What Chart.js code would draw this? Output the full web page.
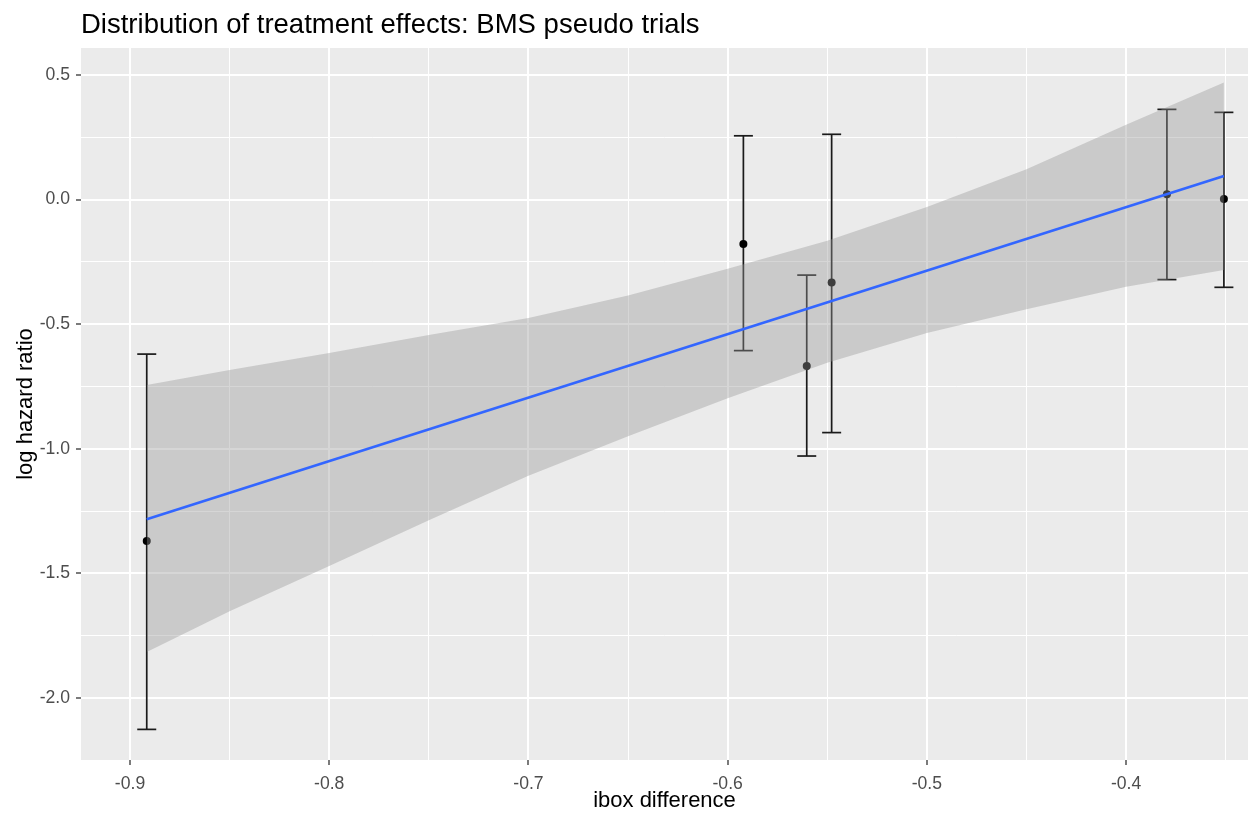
<!DOCTYPE html>
<html>
<head>
<meta charset="utf-8">
<title>Distribution of treatment effects: BMS pseudo trials</title>
<script src="https://cdn.jsdelivr.net/npm/chart.js@4.4.1/dist/chart.umd.min.js"></script>
<style>
	html, body { margin: 0; padding: 0; background: #ffffff; }
	#wrap { width: 1250px; height: 819px; }
</style>
</head>
<body>
<div id="wrap"><canvas id="myChart" width="1250" height="819"></canvas></div>
<script>

const title_text = 'Distribution of treatment effects: BMS pseudo trials';
const x_title = 'ibox difference';
const y_title = 'log hazard ratio';

// one entry per pseudo trial
const trial_x = [-0.8916, -0.5921, -0.5603, -0.5478, -0.3795, -0.3509];
const trial_loghr = [-1.370, -0.178, -0.668, -0.333, 0.021, 0.002];
const trial_lower = [-2.126, -0.606, -1.029, -0.935, -0.321, -0.352];
const trial_upper = [-0.620, 0.256, -0.303, 0.262, 0.362, 0.350];

// linear fit and its confidence band
const fit_x = [-0.8916, -0.3509];
const fit_y = [-1.283, 0.095];

const band_x = [-0.8916, -0.85, -0.8, -0.75, -0.7, -0.65, -0.6, -0.55, -0.5, -0.45, -0.4, -0.3509];
const band_upper = [-0.744, -0.684, -0.616, -0.543, -0.475, -0.385, -0.278, -0.165, -0.030, 0.122, 0.300, 0.470];
const band_lower = [-1.815, -1.652, -1.470, -1.287, -1.108, -0.950, -0.797, -0.655, -0.535, -0.440, -0.350, -0.283];

const x_major_ticks = [-0.9, -0.8, -0.7, -0.6, -0.5, -0.4];
const x_minor_ticks = [-0.85, -0.75, -0.65, -0.55, -0.45, -0.35];
const x_tick_labels = ['-0.9', '-0.8', '-0.7', '-0.6', '-0.5', '-0.4'];

const y_major_ticks = [0.5, 0.0, -0.5, -1.0, -1.5, -2.0];
const y_minor_ticks = [0.25, -0.25, -0.75, -1.25, -1.75];
const y_tick_labels = ['0.5', '0.0', '-0.5', '-1.0', '-1.5', '-2.0'];

const font_family = '"Liberation Sans", Arial, sans-serif';


function toPoints(xs, ys)
{
	return xs.map((x, i) => ({'x': x, 'y': ys[i]}));
}


function getErrorBarPoints()
{
	const points = [];

	for (let i = 0; i < trial_x.length; i++)
	{
		points.push({'x': trial_x[i], 'y': trial_lower[i]});
		points.push({'x': trial_x[i], 'y': trial_upper[i]});
		points.push({'x': trial_x[i], 'y': null});
	}

	return points;
}


function isMajor(value, major_ticks)
{
	return major_ticks.some((m) => Math.abs(m - value) < 1e-6);
}


function tickLabel(value, major_ticks, labels)
{
	const idx = major_ticks.findIndex((m) => Math.abs(m - value) < 1e-6);
	return (idx >= 0) ? labels[idx] : '';
}


function setTicks(major_ticks, minor_ticks)
{
	return function(scale)
	{
		scale.ticks = major_ticks.concat(minor_ticks)
			.sort((a, b) => a - b)
			.map((v) => ({'value': v}));
	}
}


const panel_background = {
	id: 'panel_background',
	beforeDraw(chart)
	{
		const {ctx, chartArea} = chart;
		ctx.save();
		ctx.fillStyle = '#ffffff';
		ctx.fillRect(0, 0, chart.width, chart.height);
		ctx.fillStyle = '#ebebeb';
		ctx.fillRect(chartArea.left, chartArea.top, chartArea.right - chartArea.left, chartArea.bottom - chartArea.top);
		ctx.restore();
	}
};

// ggplot puts the title flush with the panel, not the canvas
const plot_title = {
	id: 'plot_title',
	afterDraw(chart)
	{
		const ctx = chart.ctx;
		ctx.save();
		ctx.font = '27.5px ' + font_family;
		ctx.fillStyle = '#000000';
		ctx.textAlign = 'left';
		ctx.textBaseline = 'alphabetic';
		ctx.fillText(title_text, chart.chartArea.left, 33);
		ctx.restore();
	}
};


window.onload = function()
{
	const canvas = document.getElementById('myChart').getContext('2d');

	new Chart(canvas, {
		type: 'line',
		data: {
			datasets: [
				{
					label: 'fit',
					data: toPoints(fit_x, fit_y),
					borderColor: '#3366ff',
					borderWidth: 2.6,
					pointRadius: 0,
					tension: 0,
					fill: false,
					order: 0,
				},
				{
					label: 'band lower',
					data: toPoints(band_x, band_lower),
					borderColor: 'rgba(0,0,0,0)',
					borderWidth: 0,
					pointRadius: 0,
					tension: 0,
					fill: false,
					order: 1,
				},
				{
					label: 'band upper',
					data: toPoints(band_x, band_upper),
					borderColor: 'rgba(0,0,0,0)',
					borderWidth: 0,
					backgroundColor: 'rgba(153,153,153,0.4)',
					pointRadius: 0,
					tension: 0,
					fill: {target: 1},
					order: 1,
				},
				{
					label: 'trials',
					data: toPoints(trial_x, trial_loghr),
					showLine: false,
					pointRadius: 4,
					pointBackgroundColor: '#000000',
					pointBorderWidth: 0,
					order: 2,
				},
				{
					label: 'error bars',
					data: getErrorBarPoints(),
					borderColor: '#1a1a1a',
					borderWidth: 1.7,
					spanGaps: false,
					pointStyle: 'line',
					pointRadius: 9.5,
					pointBorderColor: '#1a1a1a',
					pointBorderWidth: 1.7,
					fill: false,
					order: 3,
				},
			],
		},
		options: {
			responsive: false,
			animation: false,
			events: [],
			layout: {
				autoPadding: false,
				padding: {top: 48, right: 2, left: 0, bottom: 0},
			},
			plugins: {
				legend: {display: false},
				tooltip: {enabled: false},
				title: {display: false},
			},
			scales: {
				x: {
					type: 'linear',
					min: -0.9246,
					max: -0.3388,
					afterBuildTicks: setTicks(x_major_ticks, x_minor_ticks),
					afterFit: (scale) =>
					{
						scale.height = 59;
						scale.paddingLeft = 0;
						scale.paddingRight = 0;
					},
					border: {display: false},
					grid: {
						color: '#ffffff',
						lineWidth: (c) => isMajor(c.tick.value, x_major_ticks) ? 2 : 1,
						tickColor: (c) => isMajor(c.tick.value, x_major_ticks) ? '#333333' : 'rgba(0,0,0,0)',
						tickWidth: 1.3,
						tickLength: 5,
					},
					ticks: {
						autoSkip: false,
						maxRotation: 0,
						padding: 9,
						color: '#4d4d4d',
						font: {family: font_family, size: 17.6},
						callback: (v) => tickLabel(v, x_major_ticks, x_tick_labels),
					},
					title: {
						display: true,
						text: x_title,
						color: '#000000',
						font: {family: font_family, size: 22},
						padding: {top: 0, bottom: 5},
					},
				},
				y: {
					type: 'linear',
					min: -2.2488,
					max: 0.6083,
					afterBuildTicks: setTicks(y_major_ticks, y_minor_ticks),
					afterFit: (scale) =>
					{
						scale.width = 81;
						scale.paddingTop = 0;
						scale.paddingBottom = 0;
					},
					border: {display: false},
					grid: {
						color: '#ffffff',
						lineWidth: (c) => isMajor(c.tick.value, y_major_ticks) ? 2 : 1,
						tickColor: (c) => isMajor(c.tick.value, y_major_ticks) ? '#333333' : 'rgba(0,0,0,0)',
						tickWidth: 1.3,
						tickLength: 5,
					},
					ticks: {
						autoSkip: false,
						padding: 6,
						color: '#4d4d4d',
						font: {family: font_family, size: 17.6},
						callback: (v) => tickLabel(v, y_major_ticks, y_tick_labels),
					},
					title: {
						display: true,
						text: y_title,
						color: '#000000',
						font: {family: font_family, size: 22},
						padding: {top: 13, bottom: 0},
					},
				},
			},
		},
		plugins: [panel_background, plot_title],
	});
}

</script>
</body>
</html>
